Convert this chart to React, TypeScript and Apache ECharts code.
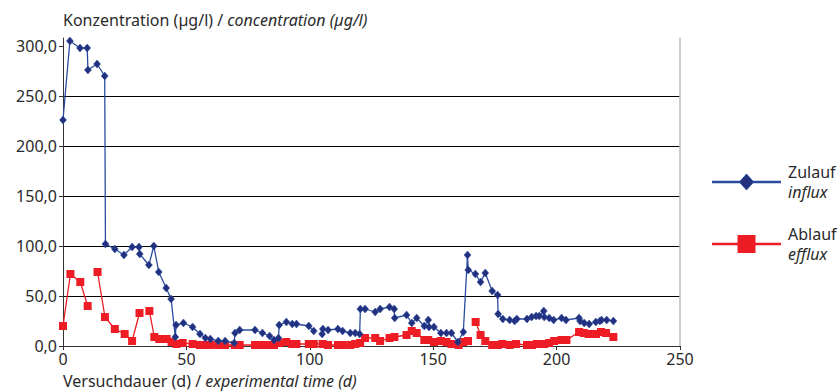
import React, { useEffect, useRef } from "react";
import * as echarts from "echarts";

// Zulauf / influx
const influxDays = [0, 2.8, 6.9, 9.8, 10.1, 13.8, 16.9, 17.2, 21, 24.7, 28, 30.8, 31.1, 34.8, 36.8, 38.8, 41.8, 43.8, 45.5, 45.8, 48.8, 52.5, 55.5, 57.7, 59.7, 62.9, 65.7, 69.4, 69.7, 71.6, 77.8, 80.8, 83.7, 85.5, 87.3, 87.6, 90.5, 92.9, 94.6, 99.6, 101.6, 103.3, 105.0, 105.3, 107.4, 111.4, 113.3, 116.4, 118.4, 120.2, 120.5, 122.4, 126.5, 128.5, 132.3, 134.2, 134.4, 139.2, 141.3, 143.3, 146.4, 148, 148.3, 150.3, 153.1, 155.4, 157.4, 160, 162.2, 163.9, 164.2, 167.1, 169.2, 171.1, 173.9, 176.1, 176.3, 178.2, 181, 183, 183.9, 188, 189.9, 191.7, 193, 194.8, 195, 197, 198.8, 202, 203.8, 209.1, 209.5, 211.2, 213.2, 215.9, 217.5, 218.2, 220.3, 223];
const influxValues: (number | null)[] = [226, 305, 298, 298, 276, 282, 270, 102, 97, 91, 99, 99, 92, 81, 100, 74, 58, 47, 9, 21, 23, 19, 12, 8, 7, 5, 5, 3, 13, 16, 16, 13, 10, 6, 8, 21, 24, 22, 22, 20, 15, null, 12, 17, 16, 17, 15, 13, 13, 12, 37, 37, 34, 37, 39, 37, 28, 31, 23, 28, 20, 26, 19, 19, 13, 13, 13, 4, 14, 91, 76, 72, 64, 73, 55, 51, 32, 27, 26, 25, 27, 27, 29, 30, 30, 35, 29, 28, 26, 28, 26, 28, 25, 23, 22, 24, 25, 26, 26, 25];

// Ablauf / efflux
const effluxDays = [0, 3, 7, 10, 12, 14, 17, 21, 25, 28, 31, 33, 35, 37, 39, 42, 44, 46, 48.5, 52.5, 55.5, 57.7, 59.7, 62.9, 65.7, 69.6, 71.6, 77.8, 80.8, 83.7, 85.5, 87.5, 90.5, 92.9, 94.6, 99.6, 101.6, 105.2, 107.4, 111.4, 113.3, 116.4, 118.4, 120.4, 122.4, 126.5, 128.5, 132.3, 134.3, 139.2, 141.3, 143.3, 146.4, 148, 150.3, 153.1, 155.4, 157.4, 160.3, 162.2, 164.1, 165.5, 167.2, 169.2, 171.1, 173.9, 176.2, 178, 181, 183.6, 188, 190, 192, 195, 197, 199, 202, 204, 209.1, 211, 213, 216, 218, 220, 223];
const effluxValues: (number | null)[] = [20, 72, 64, 40, null, 74, 29, 17, 12, 5, 33, null, 35, 9, 7, 7, 4, 2, 3, 2, 1, 1, 1, 1, 1, 1, 1, 1, 1, 1, 1, 3, 4, 2, 2, 2, 2, 2, 1, 1, 1, 1, 2, 3, 8, 8, 5, 8, 9, 11, 15, 13, 6, 6, 4, 5, 4, 2, 1, 4, 5, null, 24, 11, 5, 1, 1, 2, 1, 2, 1, 1, 2, 2, 3, 5, 6, 6, 14, 13, 12, 12, 14, 13, 9];

const yTicks = [0, 50, 100, 150, 200, 250, 300];
const xTicks = [0, 50, 100, 150, 200, 250];

const FONT = "'Noto Sans', 'Open Sans', sans-serif";
const FS = 16;
const BLUE = "#2B4C9E";
const NAVY = "#22307F";
const RED = "#EE1D25";
const TXT = "#2A2A2A";

const pairs = (xs: number[], ys: (number | null)[]) =>
  xs.map((x, i) => [x, ys[i] === null ? "-" : ys[i]]);

export default function App() {
  const ref = useRef<HTMLDivElement>(null);
  useEffect(() => {
    if (!ref.current) return;
    const chart = echarts.init(ref.current, undefined, { renderer: "svg" });
    const lx1 = 712, lx2 = 781, lmx = 746.5;
    const ly1 = 182, ly2 = 244;
    const rich = {
      n: { fontSize: FS, fontFamily: FONT, fill: TXT },
      i: { fontSize: FS, fontFamily: FONT, fontStyle: "italic", fill: TXT },
    };
    chart.setOption({
      animation: false,
      grid: { left: 63, right: 160, top: 38, bottom: 46, containLabel: false },
      xAxis: {
        type: "value",
        min: 0,
        max: 250,
        interval: 50,
        axisLine: { show: true, lineStyle: { color: "#333", width: 1 } },
        axisTick: { show: true, length: 4, lineStyle: { color: "#333" }, customValues: xTicks },
        axisLabel: { color: TXT, fontSize: FS, fontFamily: FONT, margin: 5, customValues: xTicks },
        splitLine: { show: false },
      },
      yAxis: [
        {
          type: "value",
          min: 0,
          max: 308,
          interval: 50,
          axisLine: { show: true, lineStyle: { color: "#333", width: 1 } },
          axisTick: { show: true, length: 4, lineStyle: { color: "#333" }, customValues: yTicks },
          axisLabel: {
            color: TXT,
            fontSize: FS,
            fontFamily: FONT,
            margin: 6,
            customValues: yTicks,
            formatter: (v: number) => v.toFixed(1).replace(".", ","),
          },
          splitLine: { show: true, showMaxLine: false, showMinLine: false, lineStyle: { color: "#000", width: 1 } },
        },
        {
          type: "value",
          position: "right",
          min: 0,
          max: 308,
          axisLine: { show: true, lineStyle: { color: "#BBBBBB", width: 1.5 } },
          axisTick: { show: false },
          axisLabel: { show: false },
          splitLine: { show: false },
        },
      ],
      series: [
        {
          name: "Ablauf",
          type: "line",
          data: pairs(effluxDays, effluxValues),
          connectNulls: false,
          clip: false,
          symbol: "rect",
          symbolSize: 8,
          itemStyle: { color: RED },
          lineStyle: { color: RED, width: 1.3 },
          z: 2,
        },
        {
          name: "Zulauf",
          type: "line",
          data: pairs(influxDays, influxValues),
          connectNulls: false,
          clip: false,
          symbol: "diamond",
          symbolSize: [7, 8],
          itemStyle: { color: NAVY, borderColor: BLUE, borderWidth: 0.5 },
          lineStyle: { color: BLUE, width: 1.3 },
          z: 3,
        },
      ],
      graphic: [
        {
          type: "text",
          x: 63,
          y: 20,
          style: { text: "{n|Konzentration (µg/l) / }{i|concentration (µg/l)}", rich, verticalAlign: "middle" },
        },
        {
          type: "text",
          x: 63,
          y: 381,
          style: { text: "{n|Versuchdauer (d) / }{i|experimental time (d)}", rich, verticalAlign: "middle" },
        },
        // legend: Zulauf
        { type: "line", shape: { x1: lx1, y1: ly1, x2: lx2, y2: ly1 }, style: { stroke: BLUE, lineWidth: 2.5 } },
        {
          type: "polygon",
          shape: { points: [[lmx, ly1 - 8], [lmx + 7, ly1], [lmx, ly1 + 8], [lmx - 7, ly1]] },
          style: { fill: NAVY, stroke: BLUE, lineWidth: 1 },
        },
        {
          type: "text",
          x: 788,
          y: ly1 - 10,
          style: { text: "Zulauf", fontSize: FS, fontFamily: FONT, fill: TXT, verticalAlign: "middle" },
        },
        {
          type: "text",
          x: 788,
          y: ly1 + 10,
          style: { text: "influx", fontSize: FS, fontFamily: FONT, fontStyle: "italic", fill: TXT, verticalAlign: "middle" },
        },
        // legend: Ablauf
        { type: "line", shape: { x1: lx1, y1: ly2, x2: lx2, y2: ly2 }, style: { stroke: RED, lineWidth: 2.5 } },
        {
          type: "rect",
          shape: { x: lmx - 9, y: ly2 - 9, width: 18, height: 18 },
          style: { fill: RED },
        },
        {
          type: "text",
          x: 788,
          y: ly2 - 10,
          style: { text: "Ablauf", fontSize: FS, fontFamily: FONT, fill: TXT, verticalAlign: "middle" },
        },
        {
          type: "text",
          x: 788,
          y: ly2 + 10,
          style: { text: "efflux", fontSize: FS, fontFamily: FONT, fontStyle: "italic", fill: TXT, verticalAlign: "middle" },
        },
      ],
    });
    return () => chart.dispose();
  }, []);
  return <div ref={ref} style={{ width: 840, height: 392, position: "absolute", left: 0, top: 0 }} />;
}
